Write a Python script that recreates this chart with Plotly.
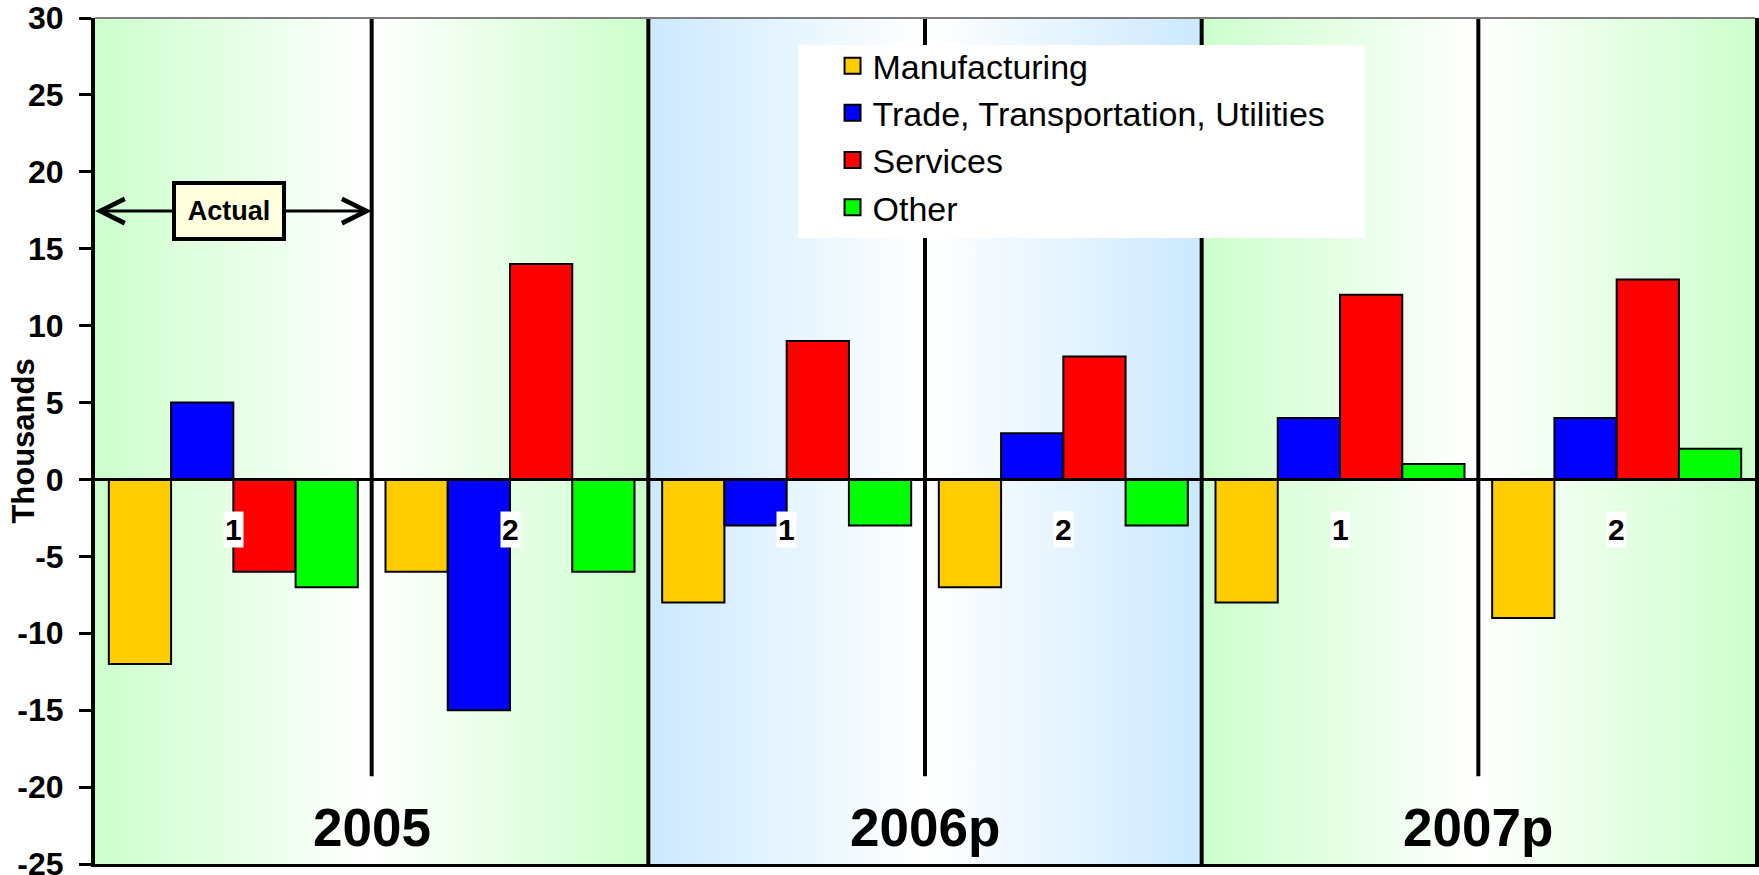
import plotly.graph_objects as go

# Employment change by sector, thousands (two halves per year)
years = ["2005", "2006p", "2007p"]
halves = ["1", "2", "1", "2", "1", "2"]
manufacturing = [-12, -6, -8, -7, -8, -9]
trade = [5, -15, -3, 3, 4, 4]
services = [-6, 14, 9, 8, 12, 13]
other = [-7, -6, -3, -3, 1, 2]

series_names = ["Manufacturing", "Trade, Transportation, Utilities", "Services", "Other"]
series_values = [manufacturing, trade, services, other]
series_colors = ["#FFCC00", "#0000FF", "#FF0000", "#00FF00"]
year_tints = ["#CCFFCC", "#CCE9FF", "#CCFFCC"]

y_ticks = list(range(-25, 31, 5))
y_tick_text = ["<b>%d</b>" % v for v in y_ticks]  # plain hyphen minus
Y_MIN, Y_MAX = -25, 30
FONT = "Liberation Sans, Arial, sans-serif"

positions = list(range(len(halves)))
x_lo, x_hi = -0.5, len(halves) - 0.5

fig = go.Figure()

# Year panels: horizontal gradient tint -> white -> tint, on the base axes
for i, tint in enumerate(year_tints):
    x0, x1 = 2 * i - 0.5, 2 * i + 1.5
    fig.add_trace(go.Scatter(
        x=[x0, x1, x1, x0, x0], y=[Y_MIN, Y_MIN, Y_MAX, Y_MAX, Y_MIN],
        mode="none", fill="toself",
        fillgradient=dict(type="horizontal",
                          colorscale=[[0, tint], [0.5, "#FFFFFF"], [1, tint]]),
        hoverinfo="skip", showlegend=False, xaxis="x", yaxis="y",
    ))

# Bars on the overlaying axes so they sit above the panel fills
for name, vals, col in zip(series_names, series_values, series_colors):
    fig.add_trace(go.Bar(
        x=positions, y=vals, name=name, marker=dict(color=col, line=dict(color="black", width=2)),
        offsetgroup=name, showlegend=False, xaxis="x2", yaxis="y2",
    ))

# Legend entries with larger square swatches
for name, col in zip(series_names, series_colors):
    fig.add_trace(go.Scatter(
        x=[None], y=[None], mode="markers", name=name,
        marker=dict(symbol="square", size=16, color=col, line=dict(color="black", width=2)),
        xaxis="x2", yaxis="y2",
    ))

shapes = []
# Dividers between years (full height)
for xb in [1.5, 3.5]:
    shapes.append(dict(type="line", xref="x", yref="y", x0=xb, x1=xb, y0=Y_MIN, y1=Y_MAX,
                       line=dict(color="black", width=4), layer="above"))
# Dividers between halves within a year
for xb in [0.5, 2.5, 4.5]:
    shapes.append(dict(type="line", xref="x", yref="y", x0=xb, x1=xb, y0=-19.3, y1=Y_MAX,
                       line=dict(color="black", width=4), layer="above"))
# Zero line
shapes.append(dict(type="line", xref="x", yref="y", x0=x_lo, x1=x_hi, y0=0, y1=0,
                   line=dict(color="black", width=3), layer="above"))
# Top border
shapes.append(dict(type="line", xref="paper", yref="paper", x0=0, x1=1, y0=1, y1=1,
                   line=dict(color="#7F7F7F", width=2), layer="above"))
# White panel behind the legend
shapes.append(dict(type="rect", xref="paper", yref="paper", x0=0.4235, x1=0.765, y0=0.740, y1=0.968,
                   fillcolor="white", line=dict(width=0), layer="above"))

annotations = []
# Half labels
for p, h in zip(positions, halves):
    annotations.append(dict(x=p, y=-3.25, xref="x", yref="y", text=h, showarrow=False,
                            font=dict(family=FONT, size=30, color="black", weight="bold"),
                            bgcolor="white", borderpad=1))
# Year labels
for i, yr in enumerate(years):
    annotations.append(dict(x=2 * i + 0.5, y=-22.6, xref="x", yref="y", text=yr, showarrow=False,
                            font=dict(family=FONT, size=53, color="black", weight="bold")))
# "Actual" marker with arrows spanning the first half of 2005
for tip in [x_lo, 0.5]:
    annotations.append(dict(x=tip, y=17.45, xref="x", yref="y", ax=-0.015, ay=17.45, axref="x", ayref="y",
                            text="Actual", showarrow=True, arrowhead=5, arrowsize=1.6, arrowwidth=3,
                            arrowcolor="black", standoff=0,
                            font=dict(family=FONT, size=27, color="black", weight="bold"),
                            bgcolor="#FFFFDD", bordercolor="black", borderwidth=4, borderpad=0,
                            width=106, height=52))
# Axis title
annotations.append(dict(x=-0.0436, y=0.5, xref="paper", yref="paper", text="Thousands",
                        textangle=-90, showarrow=False, xanchor="center", yanchor="middle",
                        font=dict(family=FONT, size=31, color="black", weight="bold")))

fig.update_layout(
    width=1759, height=875,
    margin=dict(l=95, r=4, t=18, b=11, autoexpand=False),
    paper_bgcolor="white", plot_bgcolor="white",
    barmode="group", bargap=0.1, bargroupgap=0,
    showlegend=True,
    legend=dict(x=0.4443, y=0.9775, xanchor="left", yanchor="top",
                bgcolor="rgba(0,0,0,0)", borderwidth=0,
                font=dict(family=FONT, size=34, color="black")),
    xaxis=dict(range=[x_lo, x_hi], showticklabels=False, ticks="", showgrid=False, zeroline=False,
               showline=True, linecolor="black", linewidth=3, automargin=False),
    yaxis=dict(range=[Y_MIN, Y_MAX], tickmode="array", tickvals=y_ticks, ticktext=y_tick_text,
               ticks="outside", ticklen=12, tickwidth=3, ticklabeloverflow="allow",
               tickcolor="black", showgrid=False, zeroline=False, showline=True, mirror=True,
               linecolor="black", linewidth=4, ticklabelstandoff=9, automargin=False,
               tickfont=dict(family=FONT, size=32, color="black")),
    xaxis2=dict(range=[x_lo, x_hi], overlaying="x", visible=False),
    yaxis2=dict(range=[Y_MIN, Y_MAX], overlaying="y", visible=False),
    shapes=shapes, annotations=annotations,
    hovermode=False,
)

fig.write_html("out.html")
